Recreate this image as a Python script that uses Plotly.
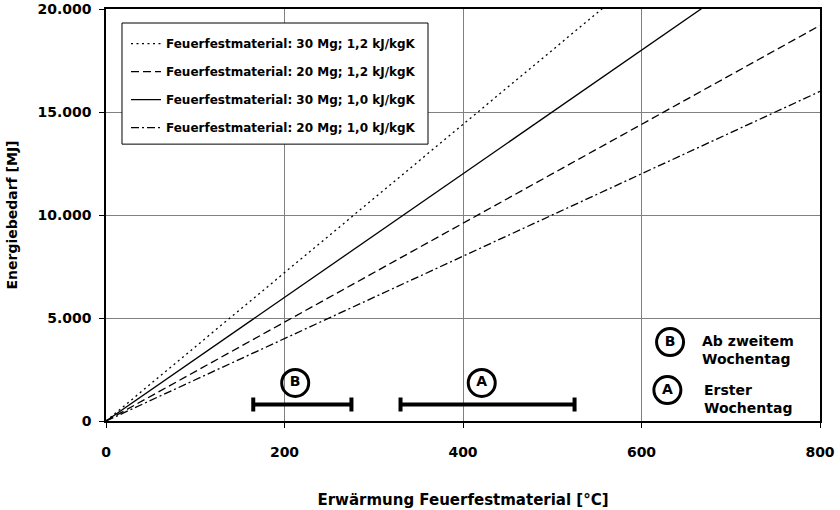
import plotly.graph_objects as go

# Data
temp_x = [0, 200, 400, 600, 800]
series_names = [
    "Feuerfestmaterial: 30 Mg; 1,2 kJ/kgK",
    "Feuerfestmaterial: 20 Mg; 1,2 kJ/kgK",
    "Feuerfestmaterial: 30 Mg; 1,0 kJ/kgK",
    "Feuerfestmaterial: 20 Mg; 1,0 kJ/kgK",
]
e_30_12 = [0, 7200, 14400, 21600, 28800]
e_20_12 = [0, 4800, 9600, 14400, 19200]
e_30_10 = [0, 6000, 12000, 18000, 24000]
e_20_10 = [0, 4000, 8000, 12000, 16000]
series_values = [e_30_12, e_20_12, e_30_10, e_20_10]
series_dash = ["2px,3.5px", "8px,4px", "solid", "8px,3px,2px,3px"]

range_labels = ["B", "A"]
range_low = [165, 330]
range_high = [275, 525]
range_y = [800, 800]
circle_x = [212, 421]
circle_y = [1850, 1850]

key_labels = ["B", "A"]
key_x = [632, 629]
key_y = [3830, 1500]
key_texts = ["Ab zweitem<br>Wochentag", "Erster<br>Wochentag"]
key_text_x = [665, 668]
key_text_y = [3447, 1068]

FONT = "DejaVu Sans, sans-serif"

fig = go.Figure()
for i, (name, vals, dash) in enumerate(zip(series_names, series_values, series_dash)):
    fig.add_trace(go.Scatter(
        x=temp_x, y=vals, mode="lines", name=name,
        line=dict(color="black", width=1.3, dash=dash),
        legendgroup=f"g{i}", hoverinfo="skip",
    ))

# Range bars
centers = [(lo + hi) / 2 for lo, hi in zip(range_low, range_high)]
halfs = [(hi - lo) / 2 for lo, hi in zip(range_low, range_high)]
fig.add_trace(go.Scatter(
    x=centers, y=range_y, mode="markers",
    marker=dict(size=1, color="rgba(0,0,0,0)"),
    error_x=dict(type="data", array=halfs, symmetric=True,
                 color="black", thickness=4, width=7),
    showlegend=False, hoverinfo="skip",
))

# Circled letters
fig.add_trace(go.Scatter(
    x=circle_x + key_x, y=circle_y + key_y, mode="markers+text",
    text=range_labels + key_labels, textposition="middle center",
    textfont=dict(family=FONT, size=14, color="black", weight="bold"),
    marker=dict(symbol="circle-open", size=27, color="black", line=dict(width=3, color="black")),
    showlegend=False, hoverinfo="skip", cliponaxis=False,
))

for t, x, y in zip(key_texts, key_text_x, key_text_y):
    fig.add_annotation(x=x, y=y, xref="x", yref="y", text=t, showarrow=False,
                       xanchor="left", yanchor="middle", align="left",
                       font=dict(family=FONT, size=14, color="black", weight="bold"))

fig.add_shape(type="line", x0=200, x1=200, y0=0, y1=20000, xref="x", yref="y",
              line=dict(color="black", width=1), layer="below")

# legend frame
fig.add_shape(type="rect", xref="paper", yref="paper",
              x0=0.0224, x1=0.451, y0=0.672, y1=0.966,
              fillcolor="white", line=dict(color="black", width=1), layer="above")

fig.update_layout(
    width=840, height=510,
    margin=dict(l=106, r=20, t=9, b=89),
    paper_bgcolor="white", plot_bgcolor="white",
    separators=",.",
    font=dict(family=FONT, size=13, color="black"),
    showlegend=True,
    legend=dict(
        x=0.028, y=0.951, xanchor="left", yanchor="top",
        bgcolor="rgba(0,0,0,0)", borderwidth=0,
        font=dict(family=FONT, size=12, color="black", weight="bold"),
        traceorder="grouped", tracegroupgap=9,
    ),
    xaxis=dict(
        range=[0, 800], dtick=200, tick0=0, automargin=False,
        showgrid=True, gridcolor="#808080", gridwidth=1,
        showline=True, linecolor="black", linewidth=1.5, mirror=True,
        ticks="outside", ticklen=5, tickcolor="black",
        ticklabelstandoff=12,
        tickfont=dict(family=FONT, size=14, color="black", weight="bold"),
        zeroline=False,
        title=dict(text="Erwärmung Feuerfestmaterial [°C]", standoff=36,
                   font=dict(family=FONT, size=15, color="black", weight="bold")),
    ),
    yaxis=dict(
        range=[0, 20000], dtick=5000, tick0=0, tickformat=",d", automargin=False,
        showgrid=True, gridcolor="#808080", gridwidth=1,
        showline=True, linecolor="black", linewidth=1.5, mirror=True,
        ticks="outside", ticklen=5, tickcolor="black",
        ticklabelstandoff=5,
        tickfont=dict(family=FONT, size=14, color="black", weight="bold"),
        zeroline=False,
        title=dict(text="Energiebedarf [MJ]", standoff=17,
                   font=dict(family=FONT, size=14, color="black", weight="bold")),
    ),
)

fig.write_html("out.html")
